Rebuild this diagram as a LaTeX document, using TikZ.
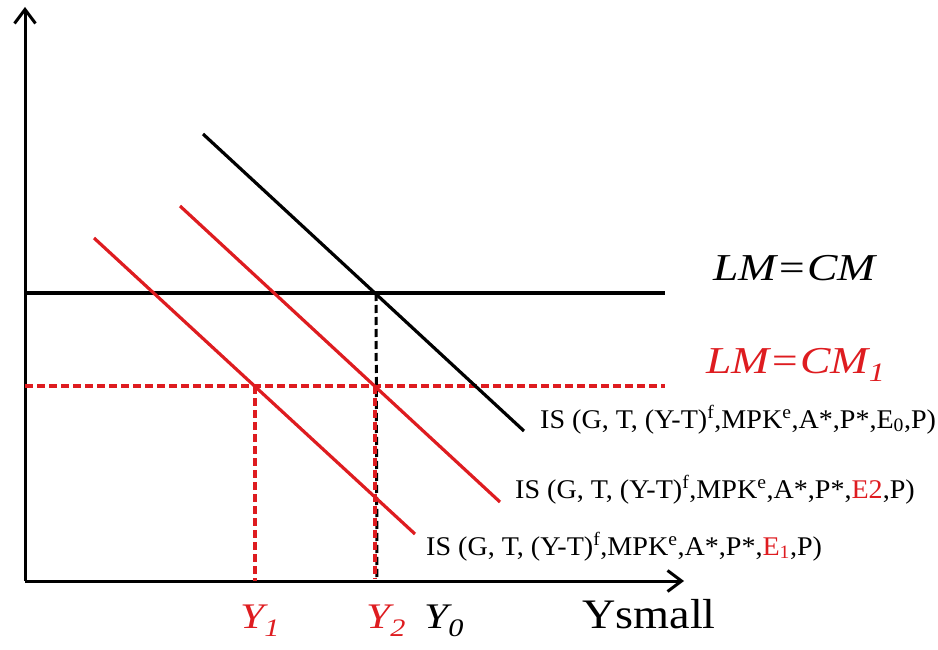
\documentclass[tikz,border=0pt]{standalone}
\usepackage{fontspec}
\setmainfont{Liberation Serif}
\usetikzlibrary{arrows.meta}
\definecolor{myred}{RGB}{222,28,32}
\tikzset{
  axisline/.style={line width=3pt,-{Straight Barb[length=14pt,width=21pt,line width=3pt]}},
  curve/.style={line width=3.2pt},
  redcurve/.style={line width=3.2pt,draw=myred},
  reddash/.style={line width=3.2pt,draw=myred,dash pattern=on 8pt off 4pt},
  blackdash/.style={line width=3pt,dash pattern=on 8pt off 4pt},
  islabel/.style={anchor=base west,inner sep=0pt,xscale=1.04,font=\fontsize{27}{29}\selectfont},
  lmlabel/.style={anchor=base west,inner sep=0pt,xscale=1.2,font=\fontsize{38}{40}\selectfont\itshape},
  ylabel/.style={anchor=base west,inner sep=0pt,xscale=1.2,font=\fontsize{36}{38}\selectfont\itshape},
}
\begin{document}
\begin{tikzpicture}[x=1pt,y=-1pt]
\useasboundingbox (0,0) rectangle (938,650);
% coordinates
\coordinate (O) at (25,581);
\coordinate (ytop) at (25,7);
\coordinate (xend) at (684,581);
\coordinate (lmL) at (25,293);
\coordinate (lmR) at (665,293);
\coordinate (lm1L) at (25,386);
\coordinate (lm1R) at (665,386);
\coordinate (is0a) at (203,134);
\coordinate (is0b) at (524,431);
\coordinate (is2a) at (180,206);
\coordinate (is2b) at (500,502);
\coordinate (is1a) at (94,238);
\coordinate (is1b) at (415,534);
\coordinate (e0) at (376,293);
\coordinate (e2) at (375,386);
\coordinate (e1) at (255,386);
\coordinate (y0) at (377,581);
\coordinate (y2) at (375,579);
\coordinate (y1) at (255,581);
% axes
\draw[axisline] (O) -- (ytop);
\draw[axisline] (O) -- (xend);
% LM lines
\draw[curve] (lmL) -- (lmR);
\draw[reddash] (lm1L) -- (lm1R);
% verticals
\draw[blackdash] (e0) -- (y0);
\draw[reddash] (e2) -- (y2);
\draw[reddash] (e1) -- (y1);
% IS curves
\draw[curve] (is0a) -- (is0b);
\draw[redcurve] (is2a) -- (is2b);
\draw[redcurve] (is1a) -- (is1b);
% labels
\node[lmlabel] (lmcm) at (713,280) {LM=CM};
\node[lmlabel,text=myred] (lmcm1) at (706,373) {LM=CM\textsubscript{1}};
\node[islabel] (l0) at (540,428) {IS (G, T, (Y-T)\textsuperscript{f},MPK\textsuperscript{e},A*,P*,E\textsubscript{0},P)};
\node[islabel] (l2) at (515,498) {IS (G, T, (Y-T)\textsuperscript{f},MPK\textsuperscript{e},A*,P*,\textcolor{myred}{E2},P)};
\node[islabel] (l1) at (426,555) {IS (G, T, (Y-T)\textsuperscript{f},MPK\textsuperscript{e},A*,P*,\textcolor{myred}{E\textsubscript{1}},P)};
\node[ylabel,text=myred] (Y1) at (240,628) {Y\textsubscript{1}};
\node[ylabel,text=myred] (Y2) at (366,628) {Y\textsubscript{2}};
\node[ylabel] (Y0) at (424,628) {Y\textsubscript{0}};
\node[anchor=base west,inner sep=0pt,xscale=1.1,font=\fontsize{42}{44}\selectfont] (ys) at (582,628) {Ysmall};
\end{tikzpicture}
\end{document}
